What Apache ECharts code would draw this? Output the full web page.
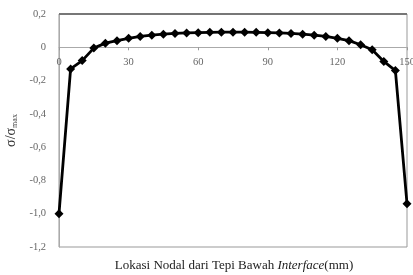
<!DOCTYPE html>
<html><head><meta charset="utf-8">
<script src="https://cdn.jsdelivr.net/npm/echarts@6/dist/echarts.min.js"></script>
<style>html,body{margin:0;padding:0;background:#fff}#c{width:413px;height:275px}</style>
</head><body><div id="c"></div>
<script>
const positions = [0,5,10,15,20,25,30,35,40,45,50,55,60,65,70,75,80,85,90,95,100,105,110,115,120,125,130,135,140,145,150];
const stressRatio = [-1,-0.13,-0.08,-0.005,0.025,0.04,0.054,0.065,0.073,0.079,0.083,0.086,0.088,0.09,0.091,0.091,0.091,0.09,0.088,0.086,0.083,0.079,0.073,0.065,0.054,0.04,0.015,-0.015,-0.085,-0.14,-0.94];
const xTitle = 'Lokasi Nodal dari Tepi Bawah ';
const xTitleItalic = 'Interface';
const xTitleEnd = '(mm)';

const gridTop = 14, gridBottom = 28, H = 275;
const yMin = -1.2, yMax = 0.2;
const zeroOffset = -((yMax - 0) / (yMax - yMin)) * (H - gridTop - gridBottom);

const chart = echarts.init(document.getElementById('c'));
const font = '"Liberation Serif", "DejaVu Serif", serif';
chart.setOption({
  animation: false,
  grid: {left: 59, right: 6, top: gridTop, bottom: gridBottom, containLabel: false, outerBoundsMode: 'none',
    show: true, borderColor: '#999', borderWidth: 1},
  xAxis: {
    type: 'value', min: 0, max: 150, interval: 30,
    position: 'top', offset: zeroOffset,
    axisLine: {onZero: false, lineStyle: {color: '#aaa', width: 1}},
    axisTick: {show: true, inside: true, length: 3, lineStyle: {color: '#999'}},
    axisLabel: {inside: true, color: '#666', fontFamily: font, fontSize: 10.5, margin: 9},
    splitLine: {show: false}
  },
  yAxis: {
    type: 'value', min: yMin, max: yMax, interval: 0.2,
    axisLine: {show: true, lineStyle: {color: '#aaa'}},
    axisTick: {show: false},
    splitLine: {show: false},
    axisLabel: {color: '#666', fontFamily: font, fontSize: 10.5, margin: 13,
      formatter: v => { const r = Math.round(v*10)/10; return r === 0 ? '0' : r.toFixed(1).replace('.', ','); }},
    name: '{a|σ/σ}{b|max}', nameLocation: 'middle', nameRotate: 90, nameGap: 36,
    nameTextStyle: {rich: {a: {fontFamily: font, fontSize: 14, color: '#333'}, b: {fontFamily: font, fontSize: 8, color: '#444', verticalAlign: 'bottom', padding: [7,0,0,0]}}}
  },
  graphic: [{
    type: 'text', x: 234, y: 266,
    style: {
      text: '{n|' + xTitle + '}{i|' + xTitleItalic + '}{n|' + xTitleEnd + '}',
      align: 'center', verticalAlign: 'middle',
      rich: {n: {fontFamily: font, fontSize: 13, fill: '#222'}, i: {fontFamily: font, fontSize: 13, fontStyle: 'italic', fill: '#222'}}
    }
  }],
  series: [{
    type: 'line',
    data: positions.map((x, i) => [x, stressRatio[i]]),
    symbol: 'diamond', symbolSize: 9,
    lineStyle: {color: '#000', width: 2.8},
    itemStyle: {color: '#000'},
    markLine: {silent: true, symbol: 'none', label: {show: false},
      lineStyle: {color: '#777', width: 2, type: 'solid'},
      data: [{yAxis: yMax}]}
  }]
});
</script></body></html>
